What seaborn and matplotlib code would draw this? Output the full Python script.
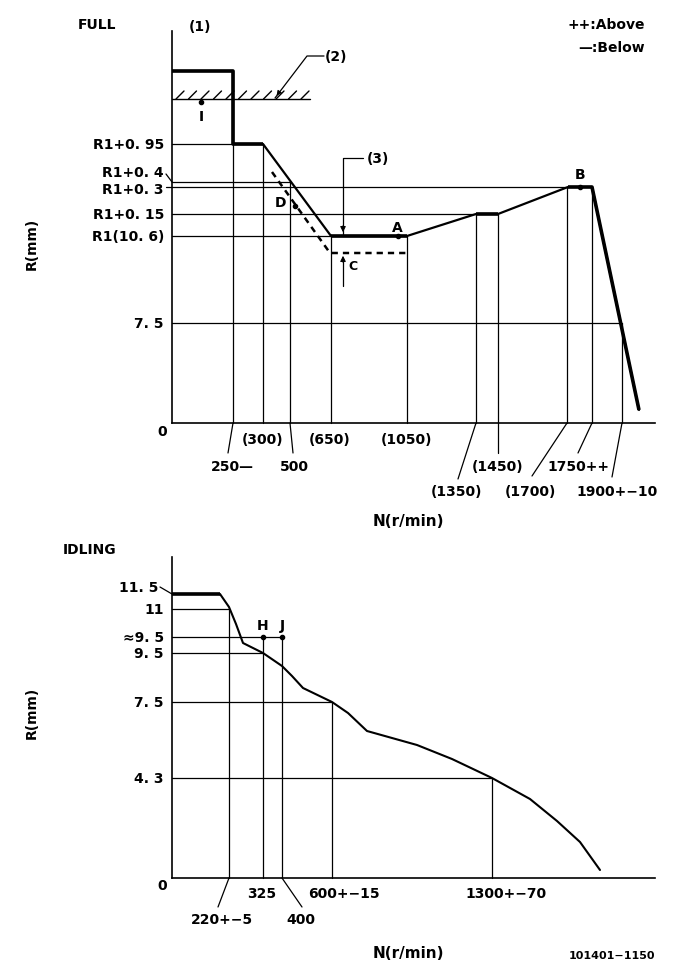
import matplotlib
matplotlib.use('Agg')
import matplotlib.pyplot as plt
import numpy as np
import pandas as pd
import seaborn as sns

sns.set_style('white')
plt.rcParams['font.family'] = ['DejaVu Sans']
plt.rcParams['font.weight'] = 'bold'
plt.rcParams['text.color'] = 'black'

# ---- FULL load diagram (schematic positions, origin at axis corner) ----
full_x_labels = ['250—', '(300)', '500', '(650)', '(1050)', '(1350)', '(1450)', '(1700)', '1750++', '1900+−10']
full_x_pos = [61, 91, 118, 159, 235, 304, 326, 395, 420, 450]
full_x_top = [352, 279, 241, 187, 187, 209, 209, 236, 236, 100]
full_y_labels = ['R1+0. 95', 'R1+0. 4', 'R1+0. 3', 'R1+0. 15', 'R1(10. 6)', '7. 5']
full_y_pos = [279, 241, 236, 209, 187, 100]
full_y_end = [91, 118, 396, 304, 235, 450]

full_curve_x = [0, 61, 61, 91, 159, 235, 304, 326, 396, 420, 467]
full_curve_y = [352, 352, 279, 279, 187, 187, 209, 209, 236, 236, 13]
dash_x = [100, 158, 235]
dash_y = [251, 170, 170]

# ---- IDLING diagram ----
idle_x_labels = ['220+−5', '325', '400', '600+−15', '1300+−70']
idle_x_pos = [57, 91, 110, 160, 320]
idle_x_top = [269, 241, 241, 176, 100]
idle_y_labels = ['11. 5', '11', '≈9. 5', '9. 5', '7. 5', '4. 3']
idle_y_pos = [284, 269, 241, 225, 176, 100]
idle_y_end = [48, 57, 110, 91, 160, 320]

idle_curve_x = [0, 48, 57, 64, 71, 91, 110, 120, 131, 160, 176, 195, 245, 280, 320, 358, 385, 408, 428]
idle_curve_y = [284, 284, 271, 254, 235, 225, 212, 202, 190, 176, 165, 147, 133, 119, 100, 79, 57, 36, 8]

W, H = 681, 979
fig = plt.figure(figsize=(6.81, 9.79), dpi=100)
ax1 = fig.add_axes([172 / W, (H - 424) / H, 483 / W, 392 / H])
ax2 = fig.add_axes([172 / W, (H - 879) / H, 483 / W, 321 / H])

fs = 10
for ax, top in ((ax1, 392), (ax2, 321)):
    ax.set_xlim(0, 483)
    ax.set_ylim(0, top)
    ax.set_xticks([])
    ax.set_yticks([])
    for s in ('top', 'right'):
        ax.spines[s].set_visible(False)
    for s in ('left', 'bottom'):
        ax.spines[s].set_linewidth(1.2)
        ax.spines[s].set_color('black')
    ax.patch.set_alpha(0)

thin = dict(color='black', lw=0.9, clip_on=False)
row_y = [-16, -43, -68]

# ---------- top panel ----------
for y, x1 in zip(full_y_pos, full_y_end):
    ax1.plot([0, x1], [y, y], **thin)
for x, y1 in zip(full_x_pos, full_x_top):
    ax1.plot([x, x], [0, y1], **thin)

df_full = pd.DataFrame({'x': full_curve_x, 'y': full_curve_y})
sns.lineplot(data=df_full, x='x', y='y', ax=ax1, sort=False, estimator=None, color='black', lw=1.6)
# thicker segments
for a, b in [(0, 3), (4, 5), (6, 7), (8, 10)]:
    ax1.plot(full_curve_x[a:b + 1], full_curve_y[a:b + 1], color='black', lw=2.6,
             solid_capstyle='butt')
ax1.plot(dash_x, dash_y, color='black', lw=1.8, ls=(0, (2.5, 2)))

# hatched stop line (2)
ax1.plot([0, 138], [324, 324], color='black', lw=1.0)
for hx in np.arange(4, 132, 12.5):
    ax1.plot([hx, hx + 8], [324, 332], color='black', lw=1.0)
ax1.plot([29], [321], 'o', color='black', ms=3)
ax1.text(29, 307, 'I', ha='center', va='center', fontsize=fs)
ax1.plot([152, 135, 103], [367, 367, 325], color='black', lw=0.9)
ax1.annotate('', xy=(103, 325), xytext=(108, 332),
             arrowprops=dict(arrowstyle='-|>', color='black', lw=0.8, mutation_scale=7))
ax1.text(164, 367, '(2)', ha='center', va='center', fontsize=fs)
ax1.text(28, 397, '(1)', ha='center', va='center', fontsize=fs)

# D, C, A, B markers
ax1.plot([123], [217], 'o', color='black', ms=3)
ax1.text(109, 221, 'D', ha='center', va='center', fontsize=fs)
ax1.plot([171, 171, 191], [187, 265, 265], color='black', lw=0.9)
ax1.annotate('', xy=(171, 188), xytext=(171, 200),
             arrowprops=dict(arrowstyle='-|>', color='black', lw=0.8, mutation_scale=8))
ax1.text(206, 265, '(3)', ha='center', va='center', fontsize=fs)
ax1.plot([171, 171], [137, 165], color='black', lw=0.9)
ax1.annotate('', xy=(171, 170), xytext=(171, 158),
             arrowprops=dict(arrowstyle='-|>', color='black', lw=0.8, mutation_scale=8))
ax1.text(181, 157, 'C', ha='center', va='center', fontsize=fs - 1)
ax1.plot([226], [187], 'o', color='black', ms=3)
ax1.text(225, 196, 'A', ha='center', va='center', fontsize=fs)
ax1.plot([408], [236], 'o', color='black', ms=3)
ax1.text(408, 249, 'B', ha='center', va='center', fontsize=fs)

# y labels
ylab_y = [279, 251, 234, 209, 187, 100]
for lab, y, yp in zip(full_y_labels, ylab_y, full_y_pos):
    ax1.text(-8, y, lab, ha='right', va='center', fontsize=fs)
    if y != yp:
        ax1.plot([-6, 0], [y - 2 * np.sign(y - yp), yp], **thin)
ax1.text(-10, -8, '0', ha='center', va='center', fontsize=fs)

# x labels: row 0 directly under axis, rows 1 and 2 hang on leader lines
lab_x = [60, 91, 122, 158, 235, 285, 326, 358, 406, 445]
lab_row = [1, 0, 1, 0, 0, 2, 1, 2, 1, 2]
lead_end = [(56, -30), None, (121, -30), None, None, (286, -56), (326, -30), (360, -53),
            (406, -30), (440, -54)]
for lab, x, lx, r, le in zip(full_x_labels, full_x_pos, lab_x, lab_row, lead_end):
    ax1.text(lx, row_y[r], lab, ha='center', va='center', fontsize=fs)
    if le is not None:
        ax1.plot([x, le[0]], [0, le[1]], **thin)
ax1.text(236, -98, 'N(r/min)', ha='center', va='center', fontsize=fs + 1)
ax1.text(-140, 180, 'R(mm)', ha='center', va='center', rotation=90, fontsize=fs)
ax1.text(-75, 399, 'FULL', ha='center', va='center', fontsize=fs)
ax1.text(473, 399, '++:Above', ha='right', va='center', fontsize=fs)
ax1.text(473, 376, '—:Below', ha='right', va='center', fontsize=fs)

# ---------- bottom panel ----------
for y, x1 in zip(idle_y_pos[1:], idle_y_end[1:]):
    ax2.plot([0, x1], [y, y], **thin)
for x, y1 in zip(idle_x_pos, idle_x_top):
    ax2.plot([x, x], [0, y1], **thin)
df_idle = pd.DataFrame({'x': idle_curve_x, 'y': idle_curve_y})
sns.lineplot(data=df_idle, x='x', y='y', ax=ax2, sort=False, estimator=None, color='black', lw=1.5)
ax2.plot(idle_curve_x[:2], idle_curve_y[:2], color='black', lw=2.6, solid_capstyle='butt')
for x, lab in zip([91, 110], ['H', 'J']):
    ax2.plot([x], [241], 'o', color='black', ms=3)
    ax2.text(x, 253, lab, ha='center', va='center', fontsize=fs)

ilab_y = [291, 269, 241, 225, 176, 100]
for lab, y, yp in zip(idle_y_labels, ilab_y, idle_y_pos):
    ax2.text(-8 if y == yp else -14, y, lab, ha='right', va='center', fontsize=fs)
    if y != yp:
        ax2.plot([-12, 0], [y, yp], **thin)
ax2.text(-10, -7, '0', ha='center', va='center', fontsize=fs)

ilab_x = [50, 90, 129, 172, 334]
ilab_row = [1, 0, 1, 0, 0]
ilead_end = [(46, -29), None, (130, -29), None, None]
for lab, x, lx, r, le in zip(idle_x_labels, idle_x_pos, ilab_x, ilab_row, ilead_end):
    ax2.text(lx, [-15, -41][r], lab, ha='center', va='center', fontsize=fs)
    if le is not None:
        ax2.plot([x, le[0]], [0, le[1]], **thin)
ax2.text(236, -75, 'N(r/min)', ha='center', va='center', fontsize=fs + 1)
ax2.text(-140, 166, 'R(mm)', ha='center', va='center', rotation=90, fontsize=fs)
ax2.text(-82, 329, 'IDLING', ha='center', va='center', fontsize=fs)
ax2.text(483, -77, '101401−1150', ha='right', va='center', fontsize=fs - 2)

fig.savefig('out.png', dpi=100, facecolor='white')
